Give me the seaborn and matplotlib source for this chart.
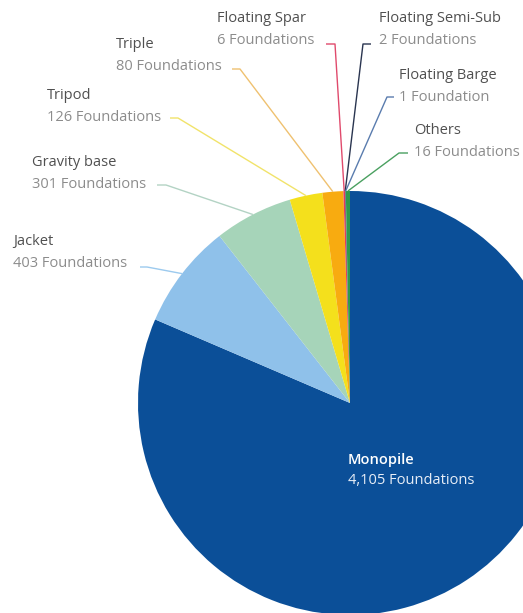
import numpy as np
import matplotlib
matplotlib.use("Agg")
import matplotlib.pyplot as plt
import seaborn as sns

# Offshore wind foundations by type
categories = ["Monopile", "Jacket", "Gravity base", "Tripod", "Triple",
              "Floating Spar", "Floating Semi-Sub", "Floating Barge", "Others"]
counts = [4105, 403, 301, 126, 80, 6, 2, 1, 16]
value_labels = ["4,105 Foundations", "403 Foundations", "301 Foundations",
                "126 Foundations", "80 Foundations", "6 Foundations",
                "2 Foundations", "1 Foundation", "16 Foundations"]

colors = ["#0b4f98", "#8fc1ea", "#a6d4b9", "#f4e01c", "#f8ab10",
          "#e43a5c", "#1e2b48", "#4e74a8", "#2f9b4c"]
line_colors = ["#0b4f98", "#9ccaee", "#b3d3c4", "#f1e36a", "#efc170",
               "#e04a6c", "#2a3550", "#5a7cae", "#4aa060"]

sns.set_theme(style="white")
plt.rcParams["font.family"] = ["Open Sans", "DejaVu Sans"]

W, H = 523, 613
CX, CY, R = 350, 403, 212   # pie centre and radius in pixels


def px(x, y):
    """Pixel position (from top-left) to data coordinates."""
    return (x - CX) / R, (CY - y) / R


fig = plt.figure(figsize=(W / 100, H / 100), dpi=100)
ax = fig.add_axes([0, 0, 1, 1])

wedges, _ = ax.pie(counts, colors=colors, startangle=90, counterclock=False,
                   radius=1.0, wedgeprops=dict(linewidth=0))

x0, _ = px(0, 0)
x1, _ = px(W, 0)
_, y1 = px(0, 0)
_, y0 = px(0, H)
ax.set_xlim(x0, x1)
ax.set_ylim(y0, y1)
ax.set_aspect("equal")
ax.axis("off")

# label layout: text anchor (left, title centre) and leader tick span
layout = {
    "Jacket":            dict(text=(13, 242), elbow=(140, 147, 267)),
    "Gravity base":      dict(text=(32, 163), elbow=(157, 166, 185)),
    "Tripod":            dict(text=(47, 96), elbow=(170, 178, 118)),
    "Triple":            dict(text=(116, 45), elbow=(232, 240, 69)),
    "Floating Spar":     dict(text=(217, 19), elbow=(326, 335, 44)),
    "Floating Semi-Sub": dict(text=(379, 19), elbow=(363, 371, 44)),
    "Floating Barge":    dict(text=(399, 76), elbow=(387, 394, 97)),
    "Others":            dict(text=(414, 131), elbow=(399, 408, 153)),
}

title_color = "#505050"
value_color = "#8c8c8c"
fs = 10.5

for i, name in enumerate(categories):
    if name == "Monopile":
        tx, ty = px(348, 460)
        ax.text(tx, ty, name, color="white", fontsize=fs, fontweight="semibold",
                ha="left", va="center")
        tx, ty = px(348, 480)
        ax.text(tx, ty, value_labels[i], color="#e8eef7", fontsize=fs,
                ha="left", va="center")
        continue
    lay = layout[name]
    tx, ty = px(*lay["text"])
    ax.text(tx, ty, name, color=title_color, fontsize=fs, ha="left", va="center")
    tx, ty = px(lay["text"][0], lay["text"][1] + 22)
    ax.text(tx, ty, value_labels[i], color=value_color, fontsize=fs,
            ha="left", va="center")

    # leader line: short horizontal tick, then to the wedge rim at its mid-angle
    w = wedges[i]
    mid = np.deg2rad((w.theta1 + w.theta2) / 2)
    rx, ry = np.cos(mid), np.sin(mid)
    ea, eb, ey = lay["elbow"]
    ax1_, ay_ = px(ea, ey)
    bx_, _ = px(eb, ey)
    if ea > CX:  # labels on the right side: tick points left toward the pie
        ax1_, bx_ = bx_, ax1_
    ax.plot([ax1_, bx_, rx], [ay_, ay_, ry], color=line_colors[i], lw=1.0,
            solid_capstyle="butt")

fig.savefig("out.png", dpi=100, facecolor="white")
